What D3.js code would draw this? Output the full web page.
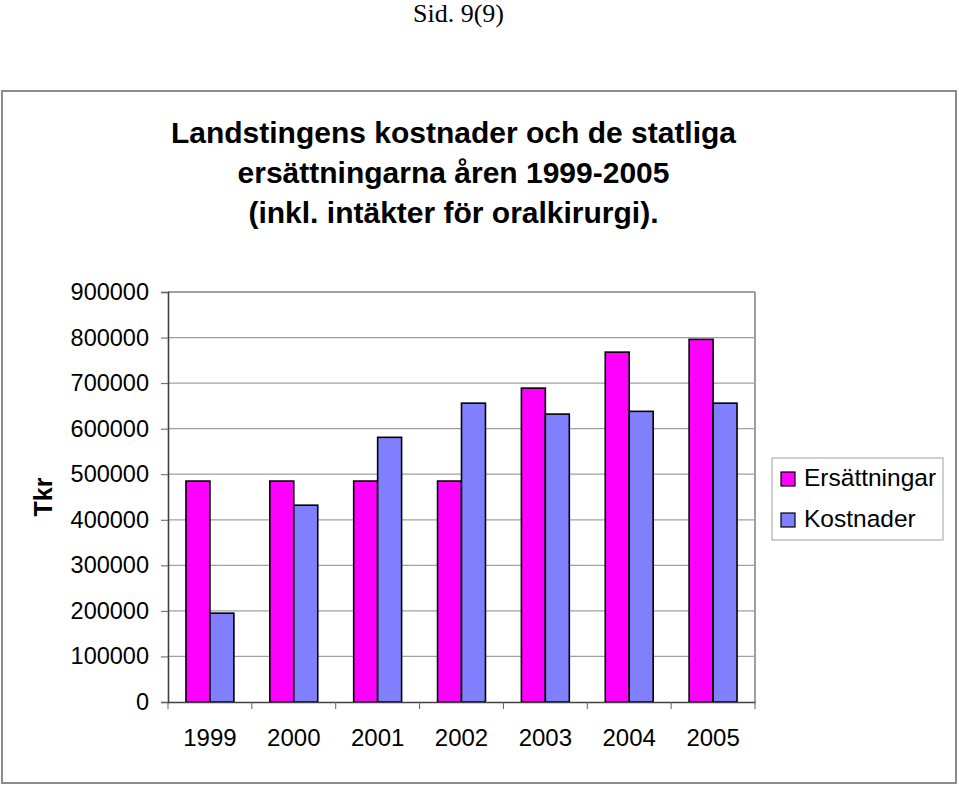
<!DOCTYPE html>
<html>
<head>
<meta charset="utf-8">
<script src="https://cdn.jsdelivr.net/npm/d3@7"></script>
<style>
  body { margin: 0; background: #fff; }
  svg text { font-family: "Liberation Sans", Arial, sans-serif; }
</style>
</head>
<body>
<svg id="chart" width="959" height="785"></svg>
<script>
'use strict';

const years = ['1999', '2000', '2001', '2002', '2003', '2004', '2005'];
const ersattningar = [485000, 485000, 485000, 485000, 689000, 768000, 796000];
const kostnader = [195000, 432000, 581000, 656000, 632000, 638000, 656000];
const seriesNames = ['Ersättningar', 'Kostnader'];
const seriesColors = ['#ff00ff', '#8080ff'];
const yTicks = [0, 100000, 200000, 300000, 400000, 500000, 600000, 700000, 800000, 900000];
const titleLines = [
  'Landstingens kostnader och de statliga',
  'ersättningarna åren 1999-2005',
  '(inkl. intäkter för oralkirurgi).'
];

const svg = d3.select('#chart');

// page header
svg.append('text')
  .attr('x', 504).attr('y', 22)
  .attr('text-anchor', 'end')
  .style('font-family', '"Liberation Serif", "Times New Roman", serif')
  .style('font-size', '26px')
  .text('Sid. 9(9)');

// chart frame
svg.append('rect')
  .attr('x', 2).attr('y', 91)
  .attr('width', 954).attr('height', 692)
  .attr('fill', '#fff')
  .attr('stroke', '#8c8c8c')
  .attr('stroke-width', 2);

svg.append('g')
  .selectAll('text')
  .data(titleLines)
  .join('text')
    .attr('x', 453.5)
    .attr('y', (d, i) => 143 + i * 40)
    .attr('text-anchor', 'middle')
    .style('font-size', '30px')
    .style('font-weight', 'bold')
    .text(d => d);

const plot = { left: 168, top: 292, right: 755, bottom: 702 };

const x = d3.scaleBand()
  .domain(years)
  .range([plot.left, plot.right]);

const y = d3.scaleLinear()
  .domain([0, 900000])
  .range([plot.bottom, plot.top]);

const barWidth = x.bandwidth() / 3.5;

// gridlines
svg.append('g')
  .selectAll('line')
  .data(yTicks.slice(1))
  .join('line')
    .attr('x1', plot.left).attr('x2', plot.right)
    .attr('y1', d => y(d)).attr('y2', d => y(d))
    .attr('stroke', '#a0a0a0')
    .attr('stroke-width', d => d === 900000 ? 2 : 1.2);

// right border
svg.append('line')
  .attr('x1', plot.right).attr('x2', plot.right)
  .attr('y1', plot.top).attr('y2', plot.bottom)
  .attr('stroke', '#a0a0a0')
  .attr('stroke-width', 2);

// bars
const rows = years.map((yr, i) => ({ year: yr, values: [ersattningar[i], kostnader[i]] }));

svg.append('g')
  .selectAll('g')
  .data(rows)
  .join('g')
    .attr('transform', d => 'translate(' + (x(d.year) + (x.bandwidth() - 2 * barWidth) / 2) + ',0)')
  .selectAll('rect')
  .data(d => d.values)
  .join('rect')
    .attr('x', (d, i) => i * barWidth)
    .attr('y', d => y(d))
    .attr('width', barWidth)
    .attr('height', d => y(0) - y(d))
    .attr('fill', (d, i) => seriesColors[i])
    .attr('stroke', '#000')
    .attr('stroke-width', 1.6);

// y axis
const yAxis = svg.append('g')
  .attr('transform', 'translate(' + plot.left + ',0)')
  .call(d3.axisLeft(y).tickValues(yTicks).tickFormat(d3.format('d')).tickSize(7).tickPadding(12));
yAxis.select('.domain').attr('stroke', '#404040').attr('stroke-width', 1.6);
yAxis.selectAll('.tick line').attr('stroke', '#606060');
yAxis.selectAll('text')
  .attr('fill', '#000')
  .style('font-size', '23.5px')
  .style('font-family', '"Liberation Sans", Arial, sans-serif');

// x axis
const xAxis = svg.append('g')
  .attr('transform', 'translate(0,' + plot.bottom + ')')
  .call(d3.axisBottom(x).tickSize(0).tickPadding(27));
xAxis.select('.domain').attr('stroke', '#404040').attr('stroke-width', 1.6);
xAxis.selectAll('text')
  .attr('fill', '#000')
  .style('font-size', '24px')
  .style('font-family', '"Liberation Sans", Arial, sans-serif');

// category separators
xAxis.append('g')
  .selectAll('line')
  .data(years.map(d => x(d)).concat([plot.right]))
  .join('line')
    .attr('x1', d => d).attr('x2', d => d)
    .attr('y1', 0).attr('y2', 7)
    .attr('stroke', '#606060');

// y title
svg.append('text')
  .attr('transform', 'translate(52,497) rotate(-90)')
  .attr('text-anchor', 'middle')
  .style('font-size', '25px')
  .style('font-weight', 'bold')
  .text('Tkr');

// legend
const legend = svg.append('g').attr('transform', 'translate(772,458)');
legend.append('rect')
  .attr('width', 171).attr('height', 82)
  .attr('fill', '#fff')
  .attr('stroke', '#b0b0b0')
  .attr('stroke-width', 1.2);

const items = legend.selectAll('g')
  .data(seriesNames)
  .join('g')
    .attr('transform', (d, i) => 'translate(9,' + (14 + i * 41) + ')');
items.append('rect')
  .attr('width', 14).attr('height', 14)
  .attr('fill', (d, i) => seriesColors[i])
  .attr('stroke', '#000')
  .attr('stroke-width', 1.2);
items.append('text')
  .attr('x', 23).attr('y', 14)
  .style('font-size', '24.5px')
  .text(d => d);
</script>
</body>
</html>
